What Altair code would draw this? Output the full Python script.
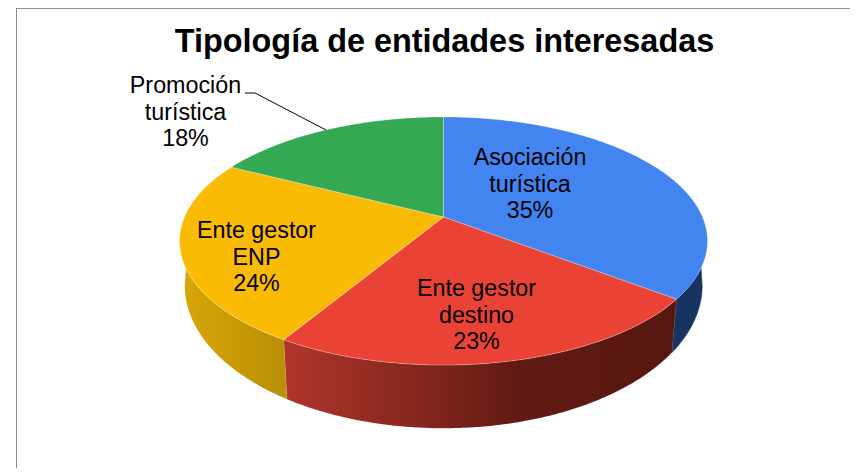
import math
import altair as alt

# Chart content
title_text = "Tipología de entidades interesadas"
categories = ["Asociación\nturística", "Ente gestor\ndestino", "Ente gestor\nENP", "Promoción\nturística"]
shares = [35.4, 23.2, 23.9, 17.5]
top_colors = ["#4285F0", "#EA4335", "#FABB05", "#34A853"]

# Perspective of the tilted disc (page pixels, less the 8px page margin)
CX, CY = 435.5, 209
A, B, K = 259.0, 119.4, 0.1935
BASE_X, BASE_Y, BASE_D = 0.98, 1.15, 41


def pt(deg, base=False):
    a = math.radians(deg)
    xx, yy = math.sin(a), math.cos(a)
    s = 1 / (1 + K * yy)
    fx = BASE_X if base else 1
    fy = BASE_Y if base else 1
    d = BASE_D if base else 0
    return [CX + A * fx * xx * s, CY + d - B * fy * yy * s]


def arc(a0, a1, base=False):
    n = max(2, int(abs(a1 - a0) * 2))
    return [pt(a0 + (a1 - a0) * i / n, base) for i in range(n + 1)]


def feature(geom_type, coords):
    return alt.Data(values=[{"type": "Feature", "properties": {},
                             "geometry": {"type": geom_type, "coordinates": coords}}])


def polygon(points):
    return feature("Polygon", [points + [points[0]]])


PROJ = dict(type="identity", scale=1, translate=[0, 0])

# cumulative slice angles
edges = [0.0]
for v in shares:
    edges.append(edges[-1] + v * 3.6)

layers = []

# frame
for line in ([[8, 0.5], [842, 0.5]], [[8.5, 0], [8.5, 460]]):
    layers.append(alt.Chart(feature("LineString", line)).mark_geoshape(
        filled=False, stroke="#8C8C8C", strokeWidth=1).project(**PROJ))


def grad(stops):
    return alt.LinearGradient(gradient="linear", x1=0, x2=1, y1=0, y2=0,
                              stops=[alt.GradientStop(offset=o, color=c) for o, c in stops])


# side walls (front half only)
# blue
top = arc(113.3, edges[1])
bot = arc(edges[1], 101.2, True)
layers.append(alt.Chart(polygon(top + bot)).mark_geoshape(
    fill="#17335F", stroke="#17335F", strokeWidth=0.5).project(**PROJ))
# red
top = arc(edges[1], edges[2])
bot = arc(edges[2], edges[1], True)
layers.append(alt.Chart(polygon(top + bot)).mark_geoshape(
    fill=grad([(0, "#B0352B"), (0.3, "#8A281F"), (0.6, "#611A13"), (1, "#571710")]),
    stroke="#FFFFFF", strokeOpacity=0.15, strokeWidth=0.5).project(**PROJ))
# yellow
top = arc(edges[2], 246.7)
bot = arc(258.8, edges[2], True)
layers.append(alt.Chart(polygon(top + bot)).mark_geoshape(
    fill=grad([(0, "#D6A608"), (1, "#BA8E05")]),
    stroke="#FFFFFF", strokeOpacity=0.15, strokeWidth=0.5).project(**PROJ))

# top face
for i, color in enumerate(top_colors):
    pts = [[CX, CY]] + arc(edges[i], edges[i + 1])
    layers.append(alt.Chart(polygon(pts)).mark_geoshape(
        fill=color, stroke="#FFFFFF", strokeOpacity=0.35, strokeWidth=0.8).project(**PROJ))

# leader line of the outside label
layers.append(alt.Chart(feature("LineString", [[237, 85], [247, 85], [318, 122]])).mark_geoshape(
    filled=False, stroke="#000000", strokeWidth=1).project(**PROJ))

# slice labels
label_pos = [(522, 157), (468.5, 288), (248.5, 230), (177.5, 85)]
for name, share, (lx, ly) in zip(categories, shares, label_pos):
    label = f"{name}\n{round(share)}%"
    layers.append(alt.Chart(alt.Data(values=[{"t": label}])).mark_text(
        font="Liberation Sans", fontSize=23.3, color="#000000", align="center",
        baseline="alphabetic", lineBreak="\n", lineHeight=26.5).encode(
        text="t:N", x=alt.value(lx), y=alt.value(ly)))

chart = alt.layer(*layers).properties(
    width=842, height=460, padding=0, autosize="none",
    title=alt.TitleParams(title_text, font="Liberation Sans", fontSize=32.4, fontWeight="bold",
                          color="#000000", anchor="middle", baseline="alphabetic",
                          offset=0, dx=15.5, dy=76),
).configure_view(strokeWidth=0)

chart.save("out.html", embed_options={"renderer": "svg", "actions": False})
